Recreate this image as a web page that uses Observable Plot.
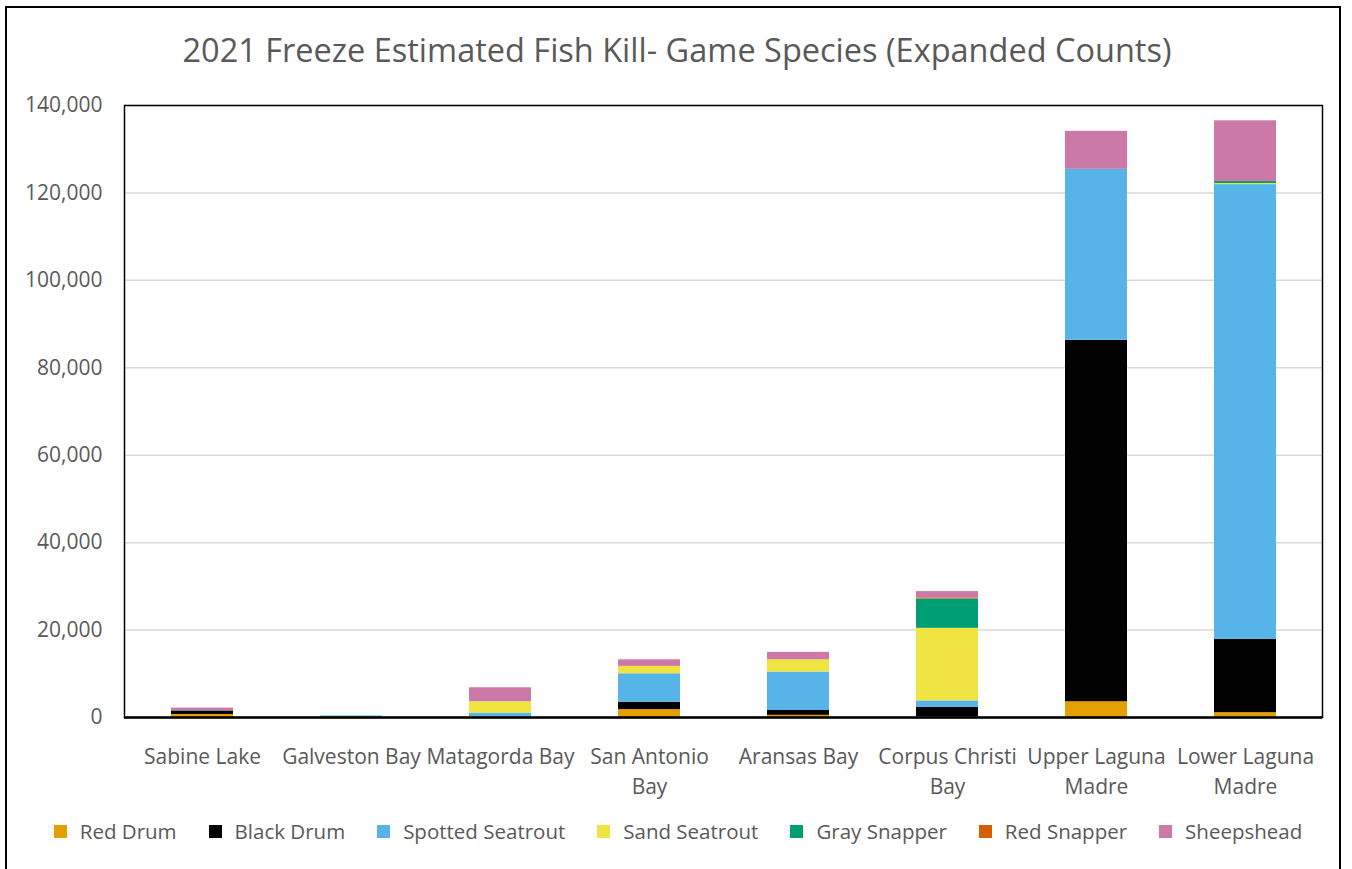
<!DOCTYPE html>
<html>
<head>
<meta charset="utf-8">
<script src="https://cdn.jsdelivr.net/npm/d3@7"></script>
<script src="https://cdn.jsdelivr.net/npm/@observablehq/plot@0.6"></script>
<style>
  html, body { margin: 0; padding: 0; background: #fff; }
  body { width: 1352px; height: 869px; position: relative; overflow: hidden; font-family: "Open Sans", sans-serif; }
  #border { position: absolute; left: 5px; top: 6px; width: 1336px; height: 880px; border: 2px solid #000; box-sizing: border-box; }
  #title { position: absolute; left: 0; top: 26px; width: 1354px; text-align: center; font-size: 32.5px; color: #595959; line-height: 48px; }
  #chart { position: absolute; left: 0; top: 80px; }
  #legend { position: absolute; left: 0; top: 816px; width: 1356px; display: flex; justify-content: center; gap: 32px; font-size: 20.5px; color: #595959; line-height: 30px; }
  .item { display: flex; align-items: center; gap: 13px; }
  .sw { width: 13px; height: 13px; display: inline-block; }
</style>
</head>
<body>
<div id="border"></div>
<div id="title">2021 Freeze Estimated Fish Kill- Game Species (Expanded Counts)</div>
<div id="chart"></div>
<div id="legend"></div>
<script>
const categories = ["Sabine Lake", "Galveston Bay", "Matagorda Bay", "San Antonio Bay", "Aransas Bay", "Corpus Christi Bay", "Upper Laguna Madre", "Lower Laguna Madre"];
const tickLabels = ["Sabine Lake", "Galveston Bay", "Matagorda Bay", "San Antonio\nBay", "Aransas Bay", "Corpus Christi\nBay", "Upper Laguna\nMadre", "Lower Laguna\nMadre"];
const species = ["Red Drum", "Black Drum", "Spotted Seatrout", "Sand Seatrout", "Gray Snapper", "Red Snapper", "Sheepshead"];
const colors = ["#E69F00", "#000000", "#56B4E9", "#F0E442", "#009E73", "#D55E00", "#CC79A7"];

const redDrum         = [700, 0, 100, 1800, 500, 100, 3600, 1100];
const blackDrum       = [800, 100, 0, 1700, 1100, 2200, 82700, 16800];
const spottedSeatrout = [100, 250, 900, 6500, 8800, 1500, 39100, 104000];
const sandSeatrout    = [0, 0, 2600, 1700, 2800, 16600, 0, 250];
const graySnapper     = [0, 0, 0, 0, 0, 6700, 0, 450];
const redSnapper      = [0, 0, 0, 0, 0, 250, 0, 0];
const sheepshead      = [550, 0, 3200, 1500, 1700, 1450, 8700, 13900];

const yTicks = [0, 20000, 40000, 60000, 80000, 100000, 120000, 140000];

const seriesValues = [redDrum, blackDrum, spottedSeatrout, sandSeatrout, graySnapper, redSnapper, sheepshead];
const rows = categories.flatMap((c, i) => species.map((s, j) => ({bay: c, species: s, count: seriesValues[j][i]})));
const labelOf = new Map(categories.map((c, i) => [c, tickLabels[i]]));

const chart = Plot.plot({
  width: 1352,
  height: 720,
  marginTop: 25,
  marginBottom: 83,
  marginLeft: 124,
  marginRight: 30,
  style: {fontFamily: "Open Sans", fontSize: "21px", color: "#595959", background: "transparent"},
  x: {domain: categories, paddingInner: 0.586, paddingOuter: 0.293, label: null},
  y: {domain: [0, 140000], label: null},
  color: {domain: species, range: colors},
  marks: [
    Plot.gridY(yTicks.filter(d => d > 0), {stroke: "#d9d9d9", strokeOpacity: 1, strokeWidth: 1.5}),
    Plot.barY(rows, {x: "bay", y: "count", fill: "species"}),
    Plot.axisY({ticks: yTicks, tickSize: 0, tickPadding: 22, tickFormat: d3.format(","), fill: "#595959", fontSize: 21}),
    Plot.axisX({tickSize: 0, tickPadding: 25, tickFormat: d => labelOf.get(d), lineHeight: 1.43, fill: "#595959", fontSize: 21}),
    Plot.frame({stroke: "#000", strokeWidth: 1.5}),
    Plot.ruleY([0], {stroke: "#000", strokeWidth: 2.5})
  ]
});
document.getElementById("chart").appendChild(chart);

const legend = document.getElementById("legend");
species.forEach((s, i) => {
  const item = document.createElement("div");
  item.className = "item";
  const sw = document.createElement("span");
  sw.className = "sw";
  sw.style.background = colors[i];
  const t = document.createElement("span");
  t.textContent = s;
  item.appendChild(sw);
  item.appendChild(t);
  legend.appendChild(item);
});
</script>
</body>
</html>
